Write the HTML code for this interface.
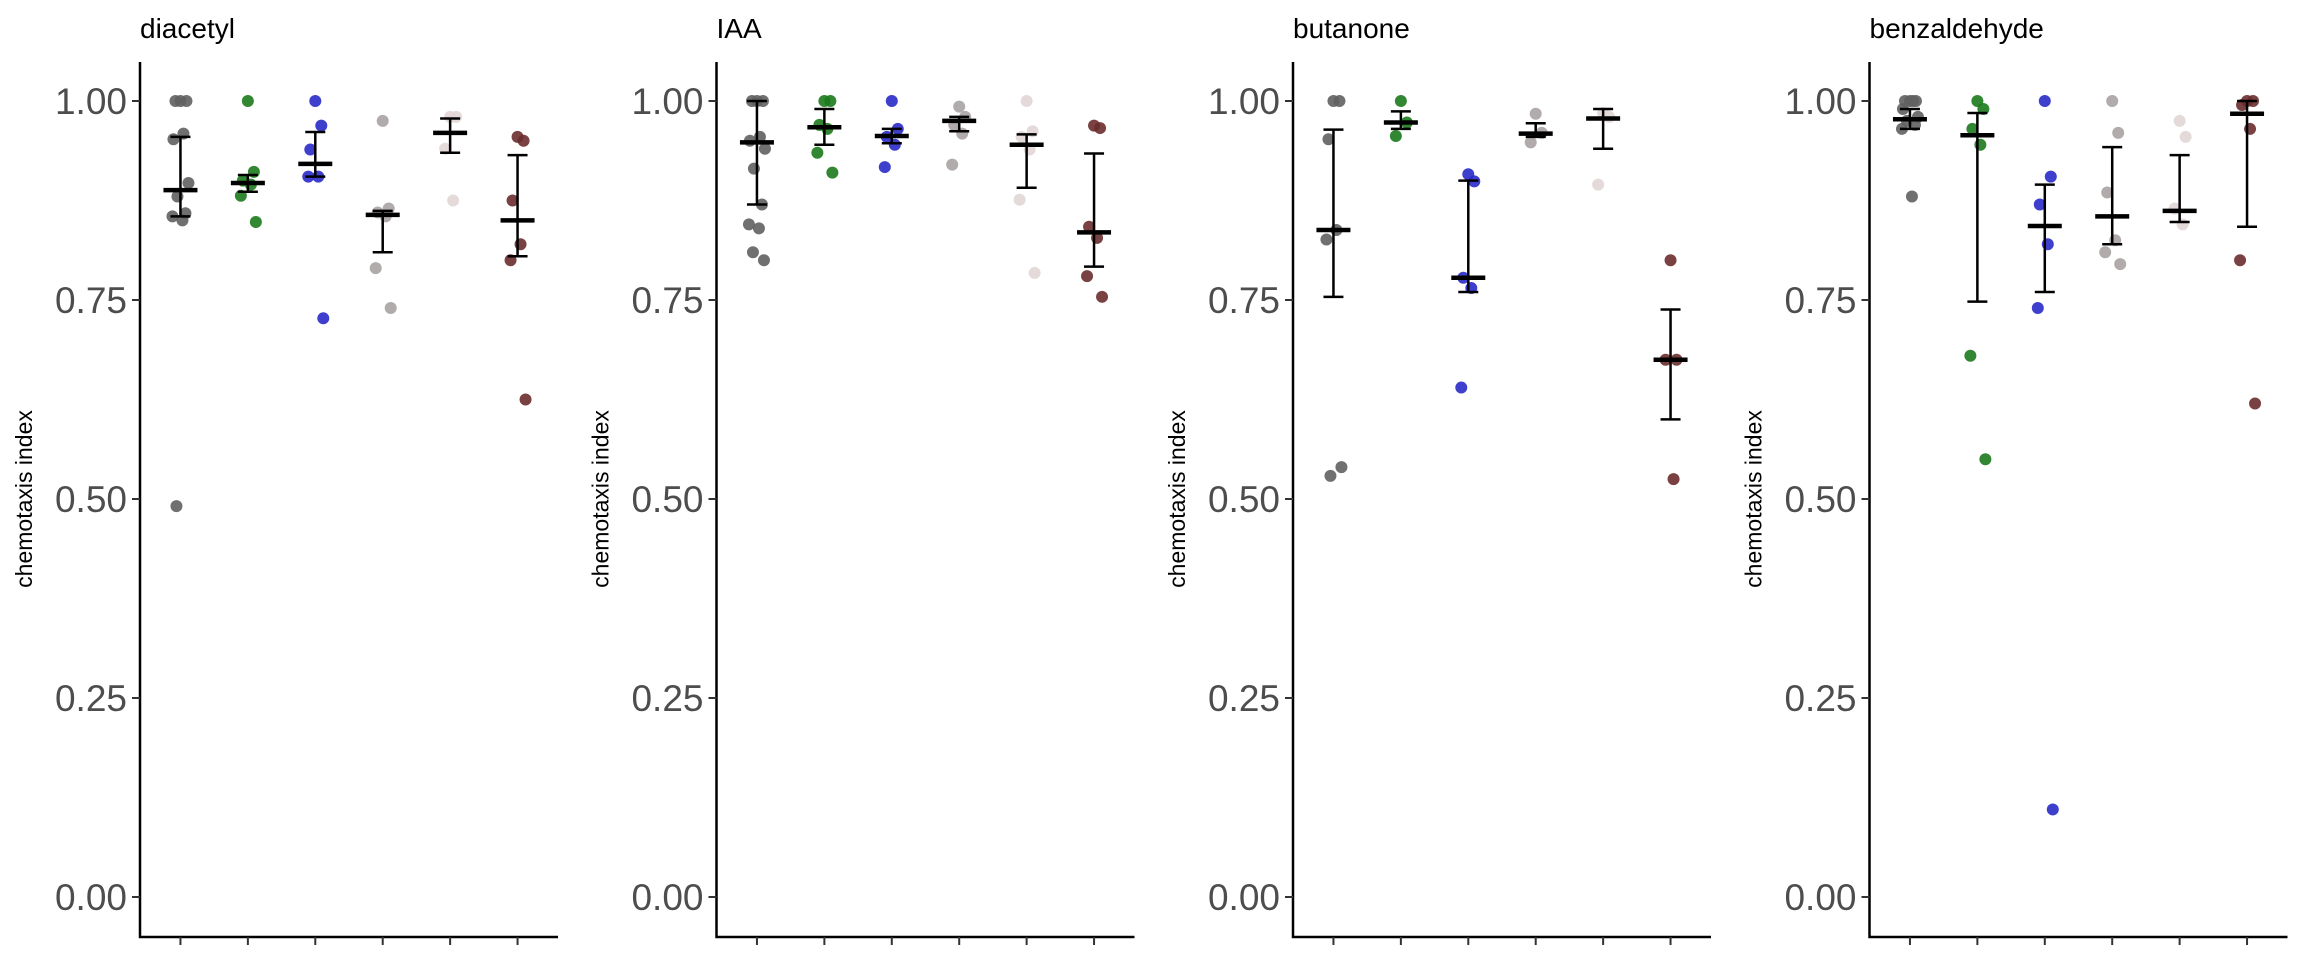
<!DOCTYPE html>
<html><head><meta charset="utf-8"><style>
html,body{margin:0;padding:0;background:#fff;}
svg{display:block;font-family:"Liberation Sans",sans-serif;}
</style></head><body>
<svg id="chart" width="2304" height="960" viewBox="0 0 2304 960" xmlns="http://www.w3.org/2000/svg"></svg>
<script>
const panelTitles = ["diacetyl","IAA","butanone","benzaldehyde"];
const groupColors = ["#626060","#1c7a1c","#2a2ac8","#a8a2a2","#e2d6d6","#6a2c2c"];
const yTicks = [0,0.25,0.5,0.75,1.0];
const yTickLabels = ["0.00","0.25","0.50","0.75","1.00"];
// points per panel per group
const diacetylPts = [[1,1,1,0.959,0.952,0.897,0.88,0.859,0.855,0.85,0.491],[1,0.911,0.9,0.895,0.881,0.848],[1,0.969,0.939,0.905,0.905,0.727],[0.975,0.865,0.86,0.855,0.79,0.74],[0.98,0.98,0.94,0.875],[0.955,0.95,0.875,0.82,0.8,0.625]];
const iaaPts = [[1,1,1,0.955,0.95,0.94,0.915,0.87,0.845,0.84,0.81,0.8],[1,1,0.97,0.965,0.935,0.91],[1,0.965,0.955,0.945,0.917],[0.993,0.98,0.97,0.959,0.92],[1,0.962,0.955,0.939,0.876,0.784],[0.969,0.966,0.842,0.828,0.78,0.754]];
const butanonePts = [[1,1,0.952,0.838,0.826,0.54,0.529],[1,0.973,0.956],[0.908,0.899,0.778,0.765,0.64],[0.984,0.96,0.948],[0.985,0.98,0.895],[0.8,0.675,0.675,0.525]];
const benzPts = [[1,1,1,1,0.99,0.98,0.975,0.97,0.965,0.88],[1,0.99,0.965,0.945,0.68,0.55],[1,0.905,0.87,0.82,0.74,0.11],[1,0.96,0.885,0.825,0.81,0.795],[0.975,0.955,0.865,0.845],[1,1,0.995,0.965,0.8,0.62]];
// summary: means, error lows, error highs
const diacetylMean = [0.888,0.897,0.921,0.857,0.96,0.85];
const diacetylLo = [0.855,0.886,0.905,0.81,0.935,0.805];
const diacetylHi = [0.955,0.907,0.961,0.862,0.978,0.932];
const iaaMean = [0.948,0.967,0.956,0.975,0.945,0.835];
const iaaLo = [0.87,0.945,0.947,0.962,0.891,0.792];
const iaaHi = [1.0,0.99,0.965,0.98,0.958,0.934];
const butanoneMean = [0.838,0.973,0.778,0.959,0.978,0.675];
const butanoneLo = [0.754,0.965,0.76,0.955,0.94,0.6];
const butanoneHi = [0.964,0.987,0.9,0.972,0.99,0.738];
const benzMean = [0.977,0.957,0.843,0.855,0.862,0.984];
const benzLo = [0.965,0.748,0.76,0.82,0.848,0.842];
const benzHi = [0.99,0.985,0.895,0.942,0.932,1.0];

const panelPts = [diacetylPts,iaaPts,butanonePts,benzPts];
const panelMean = [diacetylMean,iaaMean,butanoneMean,benzMean];
const panelLo = [diacetylLo,iaaLo,butanoneLo,benzLo];
const panelHi = [diacetylHi,iaaHi,butanoneHi,benzHi];

const NS="http://www.w3.org/2000/svg";
const svg=document.getElementById('chart');
function mk(tag,attrs,parent){const e=document.createElementNS(NS,tag);for(const k in attrs)e.setAttribute(k,attrs[k]);(parent||svg).appendChild(e);return e;}
const panelLeft=[140,716.5,1293,1869.5];
const panelW=418;
const y0=897, y1=101;
function yScale(v){return y0-(y0-y1)*v;}
const jit=[0,6,-5,3,-7,8,-3,5,-8,2,-4,7];

panelLeft.forEach((L,p)=>{
  const g=mk('g',{});
  
  
  const step=panelW/6.2;
  const xScale=i=>L+step*(0.6+i);
  const t=mk('text',{x:L,y:38,'font-size':28,fill:'#000'},g);
  t.textContent=panelTitles[p];
  
  
  const yt=mk('text',{x:0,y:0,'font-size':23,fill:'#000','text-anchor':'middle',transform:`translate(${L-108},${(62+936)/2}) rotate(-90)`},g);
  yt.textContent='chemotaxis index';
  
  
  const ax=mk('path',{d:`M${L},62 V937 H${L+panelW}`,stroke:'#000','stroke-width':2.5,fill:'none'},g);
  
  
  yTicks.forEach((v,i)=>{
    const y=yScale(v);
    mk('line',{x1:L-8,x2:L,y1:y,y2:y,stroke:'#333','stroke-width':2},g);
    const tl=mk('text',{x:L-13,y:y+13,'font-size':37,fill:'#4d4d4d','text-anchor':'end'},g);
    tl.textContent=yTickLabels[i];
    
    
  });
  for(let i=0;i<6;i++){
    const x=xScale(i);
    mk('line',{x1:x,x2:x,y1:937,y2:945,stroke:'#333','stroke-width':2},g);
    panelPts[p][i].forEach((v,k)=>{
      const c=mk('circle',{cx:x+jit[k%jit.length],cy:yScale(v),r:6,fill:groupColors[i],'fill-opacity':0.9},g);
      
      
    });
    const lo=yScale(panelLo[p][i]),hi=yScale(panelHi[p][i]),m=yScale(panelMean[p][i]);
    const eb=mk('path',{d:`M${x},${lo} V${hi} M${x-10},${lo} H${x+10} M${x-10},${hi} H${x+10}`,stroke:'#000','stroke-width':2.5,fill:'none'},g);
    
    
    const mb=mk('line',{x1:x-17,x2:x+17,y1:m,y2:m,stroke:'#000','stroke-width':4.5},g);
    
    
  }
});
</script>
</body></html>
